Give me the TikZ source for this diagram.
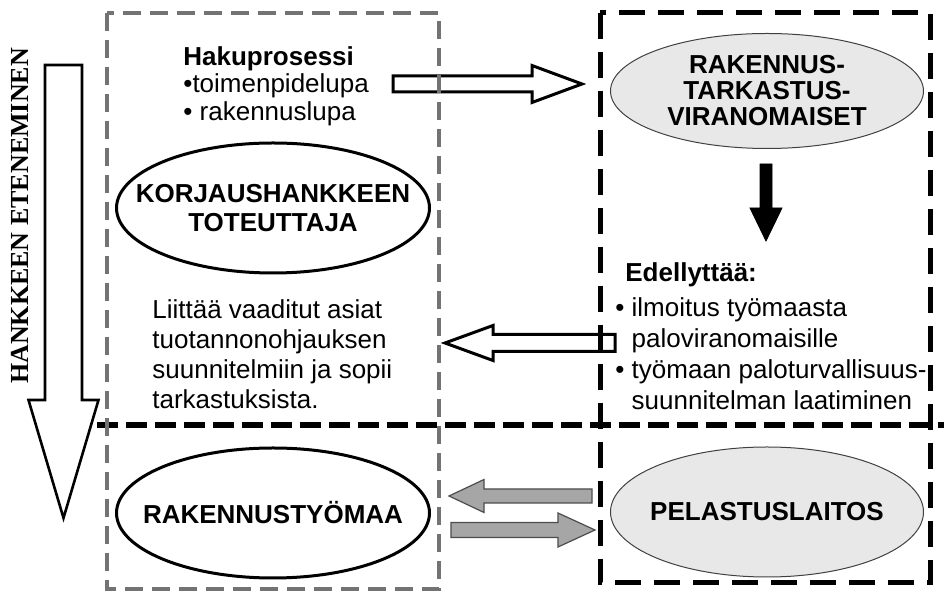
\documentclass[tikz,border=0pt]{standalone}
\usepackage{fontspec}
\setmainfont{Liberation Sans}
\newfontfamily\labelserif{Liberation Serif}
\usetikzlibrary{shapes.geometric}
\usetikzlibrary{calc}
\usetikzlibrary{positioning}

% block arrows between two points: style, from, to, half shaft, half head, head length
\newcommand{\hblock}[6]{%
  \draw[#1] let \p1=(#2), \p2=(#3), \n1={sign(\x2-\x1)} in
    (\x1,\y1+#4) -- (\x2-\n1*#6,\y1+#4) -- (\x2-\n1*#6,\y1+#5) -- (\p2)
    -- (\x2-\n1*#6,\y1-#5) -- (\x2-\n1*#6,\y1-#4) -- (\x1,\y1-#4) -- cycle;}
\newcommand{\vblock}[6]{%
  \draw[#1] let \p1=(#2), \p2=(#3), \n1={sign(\y2-\y1)} in
    (\x1+#4,\y1) -- (\x1+#4,\y2-\n1*#6) -- (\x1+#5,\y2-\n1*#6) -- (\p2)
    -- (\x1-#5,\y2-\n1*#6) -- (\x1-#4,\y2-\n1*#6) -- (\x1-#4,\y1) -- cycle;}

\tikzset{
  oval/.style={ellipse, draw=black, line width=1.5pt, fill=white,
    minimum width=156.5pt, minimum height=65pt, inner xsep=-24pt, inner ysep=0pt,
    align=center, font=\bfseries\fontsize{13}{14.5}\selectfont},
  greyoval/.style={oval, draw=black!75, line width=0.5pt, fill=black!9},
  txt/.style={inner sep=0pt, align=left, anchor=north west,
    font=\fontsize{13}{15}\selectfont},
  hollow/.style={draw=black, line width=1.5pt, fill=white},
  blackarr/.style={fill=black},
  greyarr/.style={draw=black!70, line width=0.6pt, fill=black!35},
  greybox/.style={draw=black!55, line width=1.75pt, dash pattern=on 9pt off 4.5pt},
  blackbox/.style={draw=black, line width=2.5pt, dash pattern=on 13pt off 6.5pt},
  divider/.style={draw=black, line width=3pt, dash pattern=on 10.5pt off 4pt}
}

\begin{document}
\begin{tikzpicture}[x=0.5pt,y=-0.5pt]
  \useasboundingbox (0,0) rectangle (944,592);
  \pgfmathsetmacro{\xl}{273}
  \pgfmathsetmacro{\xr}{767}

  % ovals
  \node[oval] (korjaus) at (\xl,208) {KORJAUSHANKKEEN\\TOTEUTTAJA};
  \node[oval] (tyomaa) at (\xl,513) {RAKENNUSTYÖMAA};
  \node[greyoval, minimum height=57.5pt, font=\bfseries\fontsize{13}{13}\selectfont]
    (viranom) at (\xr,91) {RAKENNUS-\\TARKASTUS-\\VIRANOMAISET};
  \node[greyoval] (pelastus) at (\xr,512) {PELASTUSLAITOS};

  % texts
  \node[txt, font=\fontsize{13}{13.75}\selectfont] (haku) at (183,46)
    {\textbf{Hakuprosessi}\\•toimenpidelupa\\• rakennuslupa};
  \node[txt, font=\bfseries\fontsize{13}{15}\selectfont] (edell) at (625,262) {Edellyttää:};
  \node[txt, font=\fontsize{13}{15.5}\selectfont] (ehdot) at (615,297)
    {• ilmoitus työmaasta\\\hphantom{• }paloviranomaisille\\
     • työmaan paloturvallisuus-\\\hphantom{• }suunnitelman laatiminen};
  \node[txt] (liittaa) at (152,299)
    {Liittää vaaditut asiat\\tuotannonohjauksen\\suunnitelmiin ja sopii\\tarkastuksista.};
  \node[rotate=90, inner sep=0pt, font=\labelserif\bfseries\fontsize{13}{13}\selectfont]
    (hanke) at (20,216) {HANKKEEN ETENEMINEN};

  % arrow ends
  \coordinate (progS) at (63.5,65);
  \coordinate (progE) at (63.5,518);
  \coordinate (hakuS) at (393,84);
  \coordinate (hakuE) at (582,84);
  \coordinate (vaadS) at ($(viranom.south)+(-1,15)$);
  \coordinate (vaadE) at ($(viranom.south)+(-1,92)$);
  \coordinate (backS) at (615,343);
  \coordinate (backE) at (445,343);
  \coordinate (ilmS) at ($(pelastus.west)+(-18,-16)$);
  \coordinate (ilmE) at ($(tyomaa.east)+(18,-17)$);
  \coordinate (tyoS) at ($(tyomaa.east)+(20,17)$);
  \coordinate (tyoE) at ($(pelastus.west)+(-15,18)$);

  % block arrows
  \vblock{hollow, line width=1.3pt}{progS}{progE}{9.25pt}{17.5pt}{59pt}
  \hblock{hollow}{hakuS}{hakuE}{4pt}{9.25pt}{25pt}
  \vblock{blackarr}{vaadS}{vaadE}{3pt}{8pt}{16.5pt}
  \hblock{hollow}{backS}{backE}{4.25pt}{8.75pt}{24pt}
  \hblock{greyarr}{ilmS}{ilmE}{3.5pt}{8.25pt}{17.5pt}
  \hblock{greyarr}{tyoS}{tyoE}{3.75pt}{8.5pt}{18.5pt}

  % boxes
  \draw[divider] (97,425) -- (944,425);
  \draw[greybox] (107,13) rectangle (439,589);
  \draw[blackbox] (600,13) rectangle (930,583);
\end{tikzpicture}
\end{document}
